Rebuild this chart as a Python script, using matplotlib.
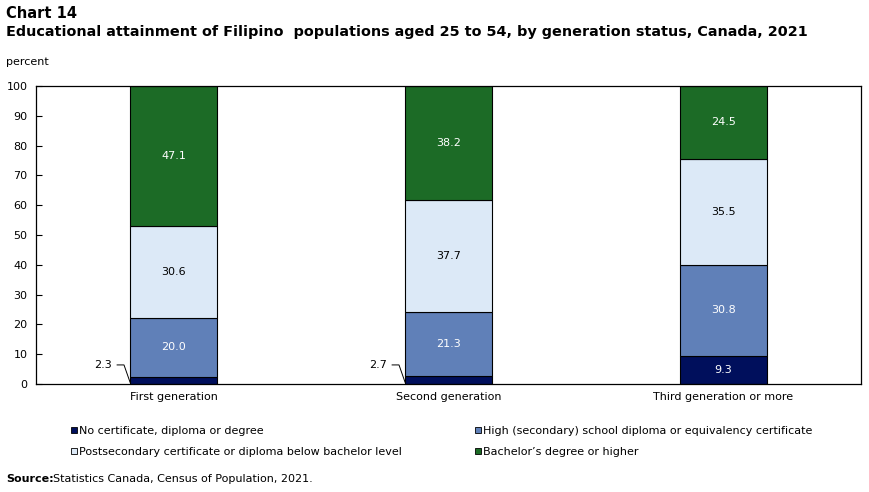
import matplotlib.pyplot as plt
from matplotlib.lines import Line2D

categories = ["First generation", "Second generation", "Third generation or more"]
series_names = [
    "No certificate, diploma or degree",
    "High (secondary) school diploma or equivalency certificate",
    "Postsecondary certificate or diploma below bachelor level",
    "Bachelor\u2019s degree or higher",
]
no_cert = [2.3, 2.7, 9.3]
high_school = [20.0, 21.3, 30.8]
postsec = [30.6, 37.7, 35.5]
bachelor = [47.1, 38.2, 24.5]

colors = ["#000f5c", "#6080b8", "#dce9f7", "#1c6b26"]
text_colors = ["white", "white", "black", "white"]

plt.rcParams["font.family"] = ["DejaVu Sans"]

fig = plt.figure(figsize=(8.69, 4.92), dpi=100)
ax = fig.add_axes([36 / 869, 108 / 492, 825 / 869, 298 / 492])

x = list(range(len(categories)))
width = 0.316
bottom = [0.0] * len(categories)
for vals, col, tcol in zip([no_cert, high_school, postsec, bachelor], colors, text_colors):
    ax.bar(x, vals, width, bottom=bottom, color=col, edgecolor="black", linewidth=0.8)
    for i, v in enumerate(vals):
        if v < 5:
            # small segment: label outside with a leader line
            left = i - width / 2
            ax.plot([left - 0.047, left - 0.022, left], [6.4, 6.4, bottom[i] + 0.6],
                    color="black", lw=0.7, clip_on=False)
            ax.text(left - 0.065, 6.4, f"{v:.1f}", ha="right", va="center", fontsize=8)
        else:
            ax.text(i, bottom[i] + v / 2, f"{v:.1f}", ha="center", va="center",
                    fontsize=8, color=tcol)
    bottom = [b + v for b, v in zip(bottom, vals)]

ax.set_xlim(-0.5, 2.5)
ax.set_ylim(0, 100)
ax.set_yticks(range(0, 101, 10))
ax.set_xticks(x)
ax.set_xticklabels(categories)
ax.tick_params(axis="y", direction="in", length=4, labelsize=8, pad=6)
ax.tick_params(axis="x", length=0, labelsize=8, pad=6)
for s in ax.spines.values():
    s.set_linewidth(0.9)

fig.text(6 / 869, 1 - 14 / 492, "Chart 14", fontsize=10.5, fontweight="bold", va="center")
fig.text(6 / 869, 1 - 32 / 492,
         "Educational attainment of Filipino  populations aged 25 to 54, by generation status, Canada, 2021",
         fontsize=10.4, fontweight="bold", va="center")
fig.text(6 / 869, 1 - 62 / 492, "percent", fontsize=8, va="center")

handles = [Line2D([0], [0], marker="s", linestyle="none", markersize=5,
                  markerfacecolor=c, markeredgecolor="black", markeredgewidth=0.6)
           for c in colors]
order = [0, 2, 1, 3]
fig.legend([handles[i] for i in order], [series_names[i] for i in order],
           ncol=2, loc="upper left", bbox_to_anchor=(58 / 869, 1 - 416 / 492),
           frameon=False, fontsize=8, handletextpad=0.0, handlelength=1.0,
           columnspacing=6.3, labelspacing=0.95)

fig.text(6 / 869, 1 - 479 / 492, "Source:", fontsize=8, fontweight="bold", va="center")
fig.text(53 / 869, 1 - 479 / 492, "Statistics Canada, Census of Population, 2021.",
         fontsize=8, va="center")

fig.savefig("out.png", dpi=100)
